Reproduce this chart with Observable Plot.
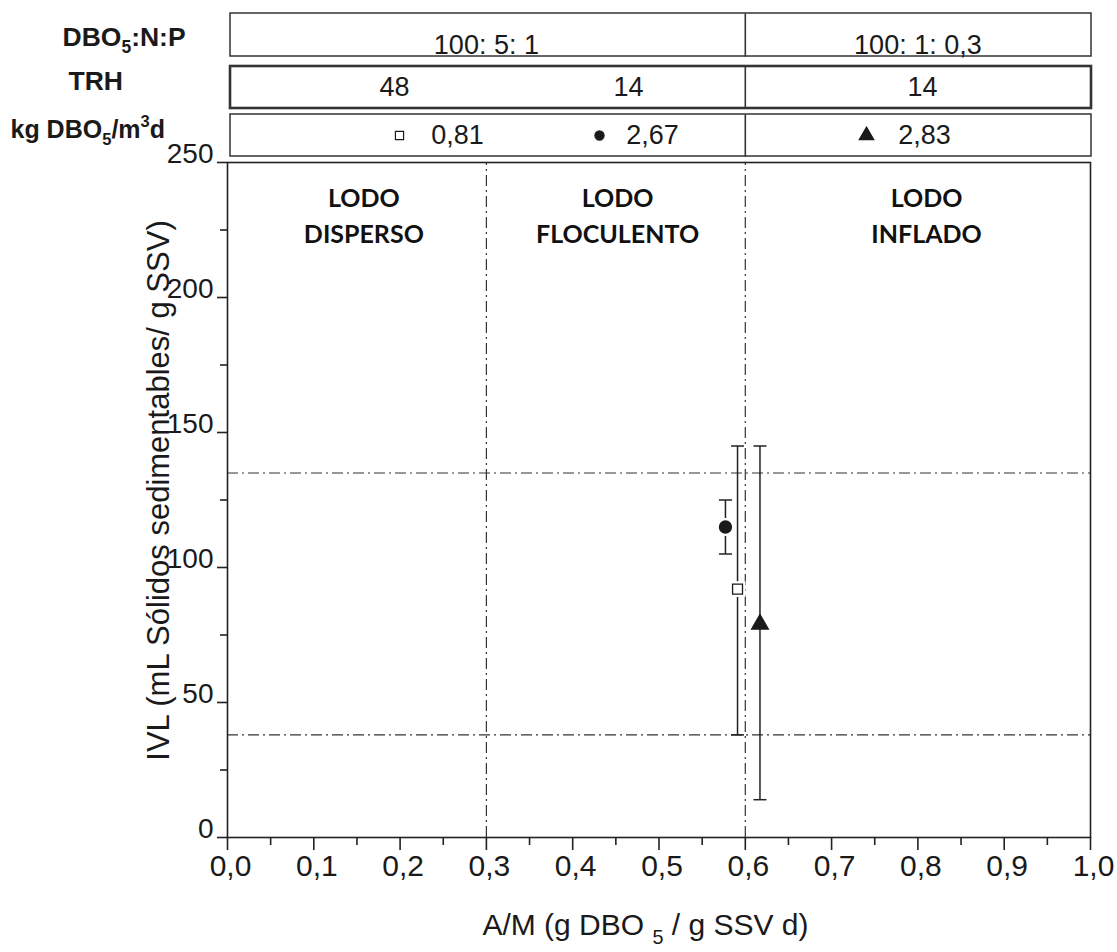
<!DOCTYPE html>
<html><head><meta charset="utf-8">
<script src="https://cdn.jsdelivr.net/npm/d3@7"></script>
<script src="https://cdn.jsdelivr.net/npm/@observablehq/plot@0.6"></script>
<style>
body{margin:0;background:#fff;}
#chart svg{display:block;}
</style></head><body><div id="chart"></div>
<script>
// ---------- data ----------
const samples   = ["0,81", "2,67", "2,83"];          // kg DBO5/m3d
const trhValues = ["48", "14", "14"];                 // TRH per sample
const ratioGroups = ["100: 5: 1", "100: 1: 0,3"];     // DBO5:N:P
const ratioSpans  = [[0, 0.6], [0.6, 1]];
const amValues  = [0.591, 0.577, 0.617];              // A/M
const ivlMean   = [92, 115, 79];                      // IVL
const ivlLow    = [38, 105, 14];
const ivlHigh   = [145, 125, 145];
const amLimits  = [0.3, 0.6];
const ivlLimits = [38, 135];
const regimes   = ["LODO\nDISPERSO", "LODO\nFLOCULENTO", "LODO\nINFLADO"];
const regimeAm  = [0.158, 0.452, 0.81];
const headerRows = ["DBO_{5}:N:P", "TRH", "kg DBO_{5}/m^{3}d"];
const xTicks = [0, 0.1, 0.2, 0.3, 0.4, 0.5, 0.6, 0.7, 0.8, 0.9, 1.0];
const xTickLabels = ["0,0","0,1","0,2","0,3","0,4","0,5","0,6","0,7","0,8","0,9","1,0"];
const xMinor = [0.05, 0.15, 0.25, 0.35, 0.45, 0.55, 0.65, 0.75, 0.85, 0.95];
const yTicks = [0, 50, 100, 150, 200, 250];
const yTickLabels = ["0", "50", "100", "150", "200", "250"];
const yMinor = [25, 75, 125, 175, 225];
const xTitle = "A/M (g DBO _{5} / g SSV d)";
const yTitle = "IVL (mL Sólidos sedimentables/ g SSV)";

// ---------- layout / style ----------
const W = 1117, H = 952, mL = 227, mR = 27, mT = 162, mB = 115;
const yv = p => 250 - (p - mT) * 250 / (H - mT - mB);   // pixel row -> y units
const xv = p => (p - mL) / (W - mL - mR);               // pixel col -> x units
const ink = "#1a1a1a";
const rowsLayout = [
  {top: 13,  bottom: 56,  sw: 1.5, textY: 45,  labelY: 37,  labelX: 62, fs: 26.5},
  {top: 66,  bottom: 108, sw: 2.6, textY: 87,  labelY: 81,  labelX: 68, fs: 26.5},
  {top: 114, bottom: 156, sw: 1.5, textY: 135, labelY: 129, labelX: 10, fs: 25}
];
const boxLeft = 230, boxRight = 1091;
const trhPx = [394, 628, 922];
const legendMarkPx = [399, 599, 866];
const legendTextPx = [457, 652, 924];
const markerOf = {"0,81": "square", "2,67": "circle", "2,83": "triangle"};
const fillOf   = {"0,81": "white",  "2,67": ink,      "2,83": ink};
const rOf      = {"0,81": 5.6,      "2,67": 6,        "2,83": 6.2};
const legendROf = {"0,81": 4.6,     "2,67": 4.6,      "2,83": 5.4};

const points = samples.map((s, i) => ({s, am: amValues[i], ivl: ivlMean[i], lo: ivlLow[i], hi: ivlHigh[i]}));
const capSymbol = {draw(ctx) { ctx.moveTo(-6.5, 0); ctx.lineTo(6.5, 0); }};
const dash = "11,4,2,4";

const marks = [];
// header boxes
marks.push(Plot.rect(rowsLayout, {x1: xv(boxLeft), x2: xv(boxRight), y1: d => yv(d.top), y2: d => yv(d.bottom),
  fill: "none", stroke: "#333", strokeWidth: d => d.sw}));
marks.push(Plot.link(rowsLayout, {x1: ratioSpans[1][0], x2: ratioSpans[1][0], y1: d => yv(d.top), y2: d => yv(d.bottom),
  stroke: "#333", strokeWidth: 1.6}));
for (const [i, label] of headerRows.entries()) {
  marks.push(Plot.text([label], {x: xv(rowsLayout[i].labelX), y: yv(rowsLayout[i].labelY),
    text: d => d, textAnchor: "start", fontWeight: "bold", fontSize: rowsLayout[i].fs, fill: ink}));
}
marks.push(Plot.text(ratioGroups, {x: (d, i) => (ratioSpans[i][0] + ratioSpans[i][1]) / 2, y: yv(rowsLayout[0].textY),
  text: d => d, fontSize: 27, fill: ink}));
marks.push(Plot.text(samples, {x: (d, i) => xv(trhPx[i]), y: yv(rowsLayout[1].textY), text: (d, i) => trhValues[i], fontSize: 27, fill: ink}));
marks.push(Plot.text(samples, {x: (d, i) => xv(legendTextPx[i]), y: yv(rowsLayout[2].textY), text: d => d, fontSize: 27, fill: ink}));
for (const [i, s] of samples.entries()) {
  marks.push(Plot.dot([s], {x: xv(legendMarkPx[i]), y: yv(rowsLayout[2].textY), symbol: markerOf[s], r: legendROf[s],
    fill: fillOf[s], stroke: ink, strokeWidth: 1.2}));
}
// reference lines
marks.push(Plot.ruleX(amLimits, {y1: 0, y2: 250, stroke: "#333", strokeWidth: 1.2, strokeDasharray: dash}));
marks.push(Plot.ruleY(ivlLimits, {x1: 0, x2: 1, stroke: "#333", strokeWidth: 1.2, strokeDasharray: dash}));
// regime labels
marks.push(Plot.text(regimes, {x: (d, i) => regimeAm[i], y: yv(213), text: d => d, fontFamily: "Lato, 'Open Sans', sans-serif",
  fontWeight: "bold", fontSize: 25, lineHeight: 1.42, fill: "#111"}));
// error bars
marks.push(Plot.link(points, {x1: "am", x2: "am", y1: "lo", y2: "hi", stroke: "#222", strokeWidth: 1.5}));
marks.push(Plot.dot(points, {x: "am", y: "lo", symbol: capSymbol, stroke: "#222", strokeWidth: 1.5, fill: "none"}));
marks.push(Plot.dot(points, {x: "am", y: "hi", symbol: capSymbol, stroke: "#222", strokeWidth: 1.5, fill: "none"}));
// markers
for (const p of points) {
  if (markerOf[p.s] !== "triangle")
    marks.push(Plot.dot([p], {x: "am", y: "ivl", symbol: markerOf[p.s], r: rOf[p.s], fill: "white", stroke: "white", strokeWidth: 6}));
  marks.push(Plot.dot([p], {x: "am", y: "ivl", symbol: markerOf[p.s], r: rOf[p.s], fill: fillOf[p.s], stroke: ink, strokeWidth: 1.3}));
}
// frame & axes
marks.push(Plot.frame({stroke: "#222", strokeWidth: 1.6}));
marks.push(Plot.axisX({ticks: xTicks, tickSize: 13, fill: "none", stroke: "#222", strokeWidth: 1.6, label: null}));
marks.push(Plot.axisX({ticks: xMinor, tickSize: 8, fill: "none", stroke: "#222", strokeWidth: 1.6, label: null}));
marks.push(Plot.axisX({ticks: xTicks, tickSize: 0, tickPadding: 17, dx: 3, fontSize: 30, fill: ink,
  tickFormat: d => xTickLabels[xTicks.indexOf(d)], label: null}));
marks.push(Plot.axisY({ticks: yTicks, tickSize: 10, fill: "none", stroke: "#222", strokeWidth: 1.6, label: null}));
marks.push(Plot.axisY({ticks: yMinor, tickSize: 7, fill: "none", stroke: "#222", strokeWidth: 1.6, label: null}));
marks.push(Plot.axisY({ticks: yTicks, tickSize: 0, tickPadding: 14, dy: -8, fontSize: 28, fill: ink,
  tickFormat: d => yTickLabels[yTicks.indexOf(d)], label: null}));
// axis titles
marks.push(Plot.text([xTitle], {x: xv(645), y: yv(925), text: d => d, fontSize: 30, fill: ink}));
marks.push(Plot.text([yTitle], {x: xv(159), y: yv(490), text: d => d, rotate: -90, fontSize: 31, fill: ink}));

const svg = Plot.plot({
  width: W, height: H, marginLeft: mL, marginRight: mR, marginTop: mT, marginBottom: mB,
  x: {domain: [0, 1]}, y: {domain: [0, 250]},
  style: {fontFamily: "'Liberation Sans', Arial, sans-serif", color: ink, background: "white", overflow: "visible"},
  marks
});
document.getElementById("chart").appendChild(svg);

// sub/superscripts
const NS = "http://www.w3.org/2000/svg";
svg.querySelectorAll("text").forEach(t => {
  const raw = t.textContent;
  if (!/[_^]\{/.test(raw) || t.querySelector("tspan")) return;
  const fs = parseFloat(getComputedStyle(t).fontSize) || 24;
  t.textContent = "";
  let shift = 0;
  for (const part of raw.split(/([_^]\{[^}]*\})/).filter(s => s)) {
    const ts = document.createElementNS(NS, "tspan");
    let target = 0;
    if (/^[_^]\{/.test(part)) {
      target = part[0] === "_" ? 0.28 * fs : -0.42 * fs;
      ts.setAttribute("font-size", (0.66 * fs).toFixed(1));
      ts.textContent = part.slice(2, -1);
    } else ts.textContent = part;
    if (target - shift) ts.setAttribute("dy", (target - shift).toFixed(1));
    shift = target;
    t.appendChild(ts);
  }
});
</script></body></html>
